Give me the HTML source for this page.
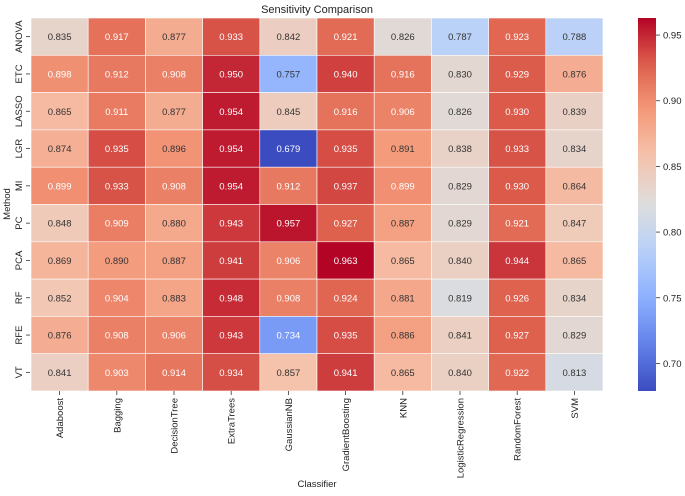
<!DOCTYPE html>
<html><head><meta charset="utf-8"><style>
body{margin:0;background:#fff;}
svg{font-family:"Liberation Sans","DejaVu Sans",sans-serif;}
</style></head><body>
<svg id="c" width="685" height="491" viewBox="0 0 685 491"></svg>
<script>
const methods=["ANOVA","ETC","LASSO","LGR","MI","PC","PCA","RF","RFE","VT"];
const classifiers=["Adaboost","Bagging","DecisionTree","ExtraTrees","GaussianNB","GradientBoosting","KNN","LogisticRegression","RandomForest","SVM"];
const rowANOVA=[0.835,0.917,0.877,0.933,0.842,0.921,0.826,0.787,0.923,0.788];
const rowETC=[0.898,0.912,0.908,0.950,0.757,0.940,0.916,0.830,0.929,0.876];
const rowLASSO=[0.865,0.911,0.877,0.954,0.845,0.916,0.906,0.826,0.930,0.839];
const rowLGR=[0.874,0.935,0.896,0.954,0.679,0.935,0.891,0.838,0.933,0.834];
const rowMI=[0.899,0.933,0.908,0.954,0.912,0.937,0.899,0.829,0.930,0.864];
const rowPC=[0.848,0.909,0.880,0.943,0.957,0.927,0.887,0.829,0.921,0.847];
const rowPCA=[0.869,0.890,0.887,0.941,0.906,0.963,0.865,0.840,0.944,0.865];
const rowRF=[0.852,0.904,0.883,0.948,0.908,0.924,0.881,0.819,0.926,0.834];
const rowRFE=[0.876,0.908,0.906,0.943,0.734,0.935,0.886,0.841,0.927,0.829];
const rowVT=[0.841,0.903,0.914,0.934,0.857,0.941,0.865,0.840,0.922,0.813];
const values=[rowANOVA,rowETC,rowLASSO,rowLGR,rowMI,rowPC,rowPCA,rowRF,rowRFE,rowVT];
const cbTicks=[0.70,0.75,0.80,0.85,0.90,0.95];

const X0=31,X1=603,Y0=18,Y1=391;
const all=values.flat();
const vmin=Math.min(...all),vmax=Math.max(...all);
const cw=(X1-X0)/classifiers.length,ch=(Y1-Y0)/methods.length;
const xPos=i=>X0+i*cw, yPos=j=>Y0+j*ch;
const stops=[[0,[59,76,192]],[0.125,[98,130,234]],[0.25,[141,176,254]],[0.375,[184,208,249]],[0.5,[221,221,221]],[0.625,[245,196,173]],[0.75,[244,154,123]],[0.875,[222,96,77]],[1,[180,4,38]]];
function cmap(t){t=Math.max(0,Math.min(1,t));for(let k=1;k<stops.length;k++){if(t<=stops[k][0]){const a=stops[k-1],b=stops[k];const f=(t-a[0])/(b[0]-a[0]);return a[1].map((v,i)=>Math.round(v+(b[1][i]-v)*f));}}return stops[stops.length-1][1];}
const norm=v=>(v-vmin)/(vmax-vmin);
const svg=document.getElementById('c');const NS="http://www.w3.org/2000/svg";
function mk(t,a,p){const e=document.createElementNS(NS,t);for(const k in a)e.setAttribute(k,a[k]);(p||svg).appendChild(e);return e;}
function lum(c){const l=c.map(v=>{v/=255;return v<=0.03928?v/12.92:Math.pow((v+0.055)/1.055,2.4)});return 0.2126*l[0]+0.7152*l[1]+0.0722*l[2];}
let t=mk('text',{x:317,y:13,'text-anchor':'middle','font-size':11,fill:'#222'});t.textContent="Sensitivity Comparison";


values.forEach((row,j)=>{row.forEach((v,i)=>{
 const c=cmap(norm(v));
 const r=mk('rect',{x:xPos(i),y:yPos(j),width:cw,height:ch,fill:`rgb(${c})`,stroke:'#fff','stroke-width':0.6});
 
 
 const tx=mk('text',{x:xPos(i)+cw/2,y:yPos(j)+ch/2+3.5,'text-anchor':'middle','font-size':9.5,fill:lum(c)>0.408?'#333':'#fff'});
 tx.textContent=v.toFixed(3);
 
 
});});
methods.forEach((m,j)=>{const y=yPos(j)+ch/2;
 mk('line',{x1:26,x2:30,y1:y,y2:y,stroke:'#333','stroke-width':0.8});
 const e=mk('text',{transform:`translate(22,${y}) rotate(-90)`,'text-anchor':'middle','font-size':9.5,fill:'#222'});e.textContent=m;
 
 
});
classifiers.forEach((c,i)=>{const x=xPos(i)+cw/2;
 mk('line',{x1:x,x2:x,y1:391,y2:395,stroke:'#333','stroke-width':0.8});
 const e=mk('text',{transform:`translate(${x+3.5},398) rotate(-90)`,'text-anchor':'end','font-size':9.5,fill:'#222'});e.textContent=c;
 
 
});
t=mk('text',{transform:'translate(10,204) rotate(-90)','text-anchor':'middle','font-size':9.5,fill:'#222'});t.textContent="Method";


t=mk('text',{x:317,y:487,'text-anchor':'middle','font-size':9.5,fill:'#222'});t.textContent="Classifier";


// colorbar
const CX=638,CW=18;
const defs=mk('defs',{});const g=mk('linearGradient',{id:'cb',x1:0,y1:1,x2:0,y2:0},defs);
for(let k=0;k<=20;k++){const c=cmap(k/20);mk('stop',{offset:k/20,'stop-color':`rgb(${c})`},g);}
const cb=mk('rect',{x:CX,y:Y0,width:CW,height:Y1-Y0,fill:'url(#cb)'});


const cbY=v=>Y1-norm(v)*(Y1-Y0);
cbTicks.forEach(v=>{const y=cbY(v);
 mk('line',{x1:CX+CW,x2:CX+CW+4,y1:y,y2:y,stroke:'#333','stroke-width':0.8});
 const e=mk('text',{x:CX+CW+7,y:y+3.5,'font-size':9.5,fill:'#222'});e.textContent=v.toFixed(2);
 
 
});
</script>
</body></html>
